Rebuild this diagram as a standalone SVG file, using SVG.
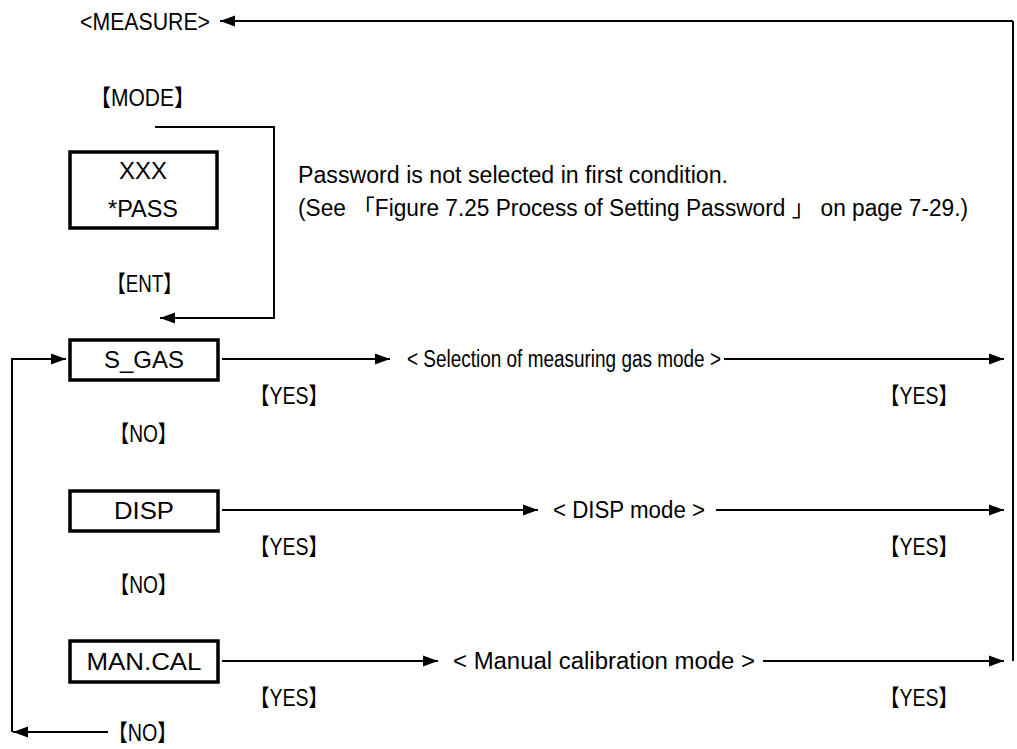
<svg xmlns="http://www.w3.org/2000/svg" width="1017" height="749" viewBox="0 0 1017 749">
<style>
text{font-family:"Liberation Sans","Noto Sans CJK JP",sans-serif;fill:#000}
.t{font-size:23px}
.b{font-size:24px;text-anchor:middle}
.box{fill:#fff;stroke:#000;stroke-width:3.5}
.ln{fill:none;stroke:#000;stroke-width:2}
.ar{fill:none;stroke:#000;stroke-width:2;marker-end:url(#ah)}
</style>
<defs>
<marker id="ah" markerUnits="userSpaceOnUse" markerWidth="16" markerHeight="12" refX="15" refY="6" orient="auto">
<path d="M0,0.5 L15,6 L0,11.5 z" fill="#000"/>
</marker>
</defs>
<g id="connectors">
<path class="ar" d="M1013,21 L220,21"/>
<path class="ln" d="M1013,21 L1013,661"/>
<path class="ar" d="M155,127 L274,127 L274,318 L160,318"/>
<path class="ar" d="M108,732 L13,732"/>
<path class="ar" d="M12,732 L12,359 L66,359"/>
<path class="ar" d="M222,359 L390,359"/>
<path class="ar" d="M724,359 L1004,359"/>
<path class="ar" d="M222,510 L538,510"/>
<path class="ar" d="M716,510 L1004,510"/>
<path class="ar" d="M222,661 L438,661"/>
<path class="ar" d="M763,661 L1004,661"/>
</g>
<g id="measure"><text class="t" x="80" y="30" font-size="24" textLength="130" lengthAdjust="spacingAndGlyphs">&lt;MEASURE&gt;</text></g>
<g id="mode-key"><text class="t" x="90" y="106" textLength="105" lengthAdjust="spacingAndGlyphs">【MODE】</text></g>
<g id="node-pass">
<rect class="box" x="70" y="152" width="147" height="76"/>
<text class="b" x="143" y="179">XXX</text>
<text class="b" x="143" y="217" textLength="70" lengthAdjust="spacingAndGlyphs">*PASS</text>
</g>
<g id="note">
<text class="t" x="298" y="183" textLength="430" lengthAdjust="spacingAndGlyphs">Password is not selected in first condition.</text>
<text class="t" x="298" y="216" textLength="670" lengthAdjust="spacingAndGlyphs">(See 「Figure 7.25  Process of Setting Password 」 on page 7-29.)</text>
</g>
<g id="ent-key"><text class="t" x="107" y="292" textLength="75" lengthAdjust="spacingAndGlyphs">【ENT】</text></g>
<g id="node-sgas">
<rect class="box" x="70" y="340" width="148" height="40"/>
<text class="b" x="144" y="368" textLength="80" lengthAdjust="spacingAndGlyphs">S_GAS</text>
</g>
<g id="sgas-mode"><text class="t" x="407" y="367" textLength="314" lengthAdjust="spacingAndGlyphs">&lt; Selection of measuring gas mode &gt;</text></g>
<g id="labels1">
<text class="t" x="250" y="404" textLength="78" lengthAdjust="spacingAndGlyphs">【YES】</text>
<text class="t" x="880" y="404" textLength="78" lengthAdjust="spacingAndGlyphs">【YES】</text>
<text class="t" x="110" y="442" textLength="67" lengthAdjust="spacingAndGlyphs">【NO】</text>
</g>
<g id="node-disp">
<rect class="box" x="70" y="491" width="148" height="40"/>
<text class="b" x="144" y="519" textLength="60" lengthAdjust="spacingAndGlyphs">DISP</text>
</g>
<g id="disp-mode"><text class="t" x="553" y="518" textLength="152" lengthAdjust="spacingAndGlyphs">&lt; DISP mode &gt;</text></g>
<g id="labels2">
<text class="t" x="250" y="555" textLength="78" lengthAdjust="spacingAndGlyphs">【YES】</text>
<text class="t" x="880" y="555" textLength="78" lengthAdjust="spacingAndGlyphs">【YES】</text>
<text class="t" x="110" y="593" textLength="67" lengthAdjust="spacingAndGlyphs">【NO】</text>
</g>
<g id="node-mancal">
<rect class="box" x="70" y="641" width="148" height="41"/>
<text class="b" x="144" y="670" textLength="115" lengthAdjust="spacingAndGlyphs">MAN.CAL</text>
</g>
<g id="cal-mode"><text class="t" x="453" y="669" textLength="302" lengthAdjust="spacingAndGlyphs">&lt; Manual calibration mode &gt;</text></g>
<g id="labels3">
<text class="t" x="250" y="706" textLength="78" lengthAdjust="spacingAndGlyphs">【YES】</text>
<text class="t" x="880" y="706" textLength="78" lengthAdjust="spacingAndGlyphs">【YES】</text>
<text class="t" x="108" y="741" textLength="69" lengthAdjust="spacingAndGlyphs">【NO】</text>
</g>
</svg>
